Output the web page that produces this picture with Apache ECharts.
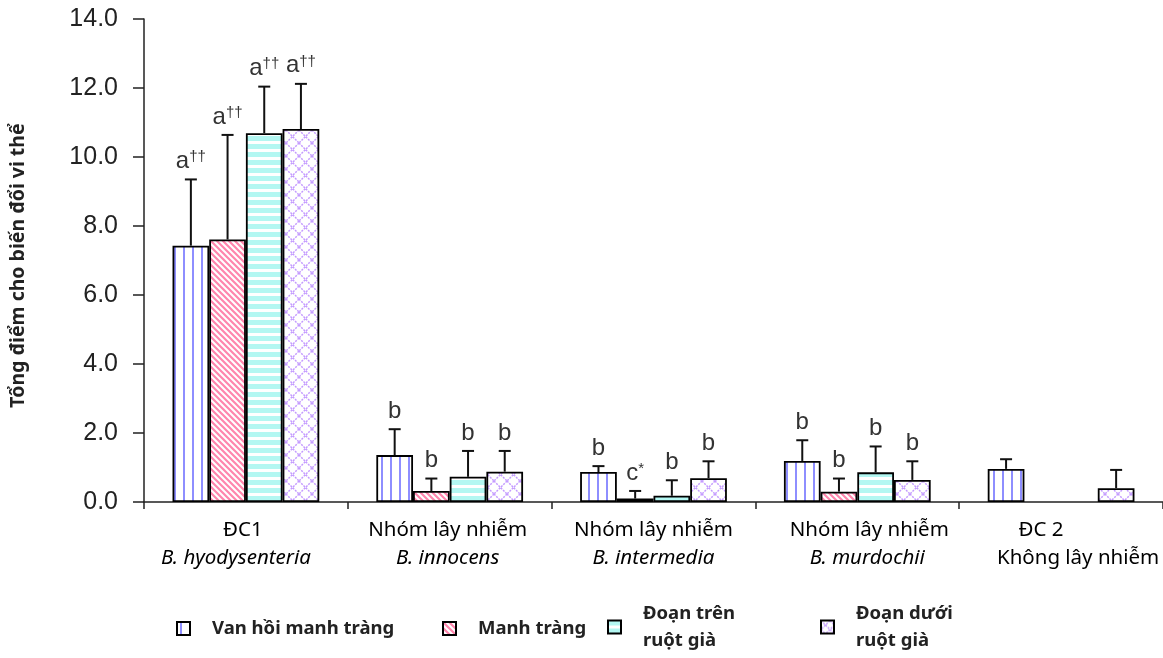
<!DOCTYPE html>
<html>
<head>
<meta charset="utf-8">
<script src="https://cdn.jsdelivr.net/npm/echarts@6/dist/echarts.min.js"></script>
<style>
  html, body { margin: 0; padding: 0; background: #fff; }
  #chartID { width: 1163px; height: 658px; }
</style>
</head>
<body>
<div id="chartID"></div>
<script>
// nhóm trên trục x (dòng 1 / dòng 2 in nghiêng)
var groupLine1 = ['ĐC1', 'Nhóm lây nhiễm', 'Nhóm lây nhiễm', 'Nhóm lây nhiễm', 'ĐC 2'];
var groupLine2 = ['B. hyodysenteria', 'B. innocens', 'B. intermedia', 'B. murdochii', 'Không lây nhiễm'];
var groupItalic = [true, true, true, true, false];

var seriesNames = ['Van hồi manh tràng', 'Manh tràng', 'Đoạn trên ruột già', 'Đoạn dưới ruột già'];
var legendLabels = ['Van hồi manh tràng', 'Manh tràng', 'Đoạn trên\nruột già', 'Đoạn dưới\nruột già'];

// giá trị trung bình
var vanHoi    = [7.43, 1.36, 0.87, 1.19, 0.96];
var manhTrang = [7.61, 0.32, 0.10, 0.30, '-'];
var doanTren  = [10.69, 0.73, 0.18, 0.86, '-'];
var doanDuoi  = [10.81, 0.88, 0.69, 0.64, 0.40];

// độ lệch chuẩn
var vanHoiSd    = [1.92, 0.75, 0.17, 0.60, 0.28];
var manhTrangSd = [3.03, 0.36, 0.22, 0.38, '-'];
var doanTrenSd  = [1.35, 0.75, 0.45, 0.75, '-'];
var doanDuoiSd  = [1.31, 0.60, 0.49, 0.54, 0.53];

// ký hiệu thống kê
var vanHoiSig    = ['a††', 'b', 'b', 'b', ''];
var manhTrangSig = ['a††', 'b', 'c*', 'b', ''];
var doanTrenSig  = ['a††', 'b', 'b', 'b', ''];
var doanDuoiSig  = ['a††', 'b', 'b', 'b', ''];

var yTicks = [0, 2, 4, 6, 8, 10, 12, 14];

var means = [vanHoi, manhTrang, doanTren, doanDuoi];
var sds = [vanHoiSd, manhTrangSd, doanTrenSd, doanDuoiSd];
var sigs = [vanHoiSig, manhTrangSig, doanTrenSig, doanDuoiSig];

// lệch ngang của nhãn trục x so với tâm nhóm (px)
var shift1 = [-3, -2, 0, 12, -20];
var shift2 = [-10, -2, 0, 10, 17];

function makePattern(kind, size) {
    var c = document.createElement('canvas');
    var ctx;
    if (kind === 'vertical') {
        var w = size || 9;
        c.width = w; c.height = w;
        ctx = c.getContext('2d');
        ctx.fillStyle = '#fff'; ctx.fillRect(0, 0, w, w);
        ctx.fillStyle = '#8e8eff'; ctx.fillRect(Math.floor(w / 2) - 1, 0, 2, w);
    } else if (kind === 'diagonal') {
        c.width = 6; c.height = 6;
        ctx = c.getContext('2d');
        ctx.fillStyle = '#fff'; ctx.fillRect(0, 0, 6, 6);
        ctx.strokeStyle = '#ff86ad'; ctx.lineWidth = 2.2;
        ctx.beginPath();
        ctx.moveTo(-3, -3); ctx.lineTo(9, 9);
        ctx.moveTo(-3, 3); ctx.lineTo(3, 9);
        ctx.moveTo(3, -3); ctx.lineTo(9, 3);
        ctx.stroke();
    } else if (kind === 'horizontal') {
        c.width = 8; c.height = 8;
        ctx = c.getContext('2d');
        ctx.fillStyle = '#fff'; ctx.fillRect(0, 0, 8, 8);
        ctx.fillStyle = '#b3f7f2'; ctx.fillRect(0, 0, 8, 5);
    } else {
        var s = size || 13;
        c.width = s; c.height = s;
        ctx = c.getContext('2d');
        ctx.fillStyle = '#fff'; ctx.fillRect(0, 0, s, s);
        ctx.strokeStyle = '#c49bff'; ctx.lineWidth = 1.5;
        ctx.setLineDash([2, 1.2]);
        ctx.beginPath();
        ctx.moveTo(0, 0); ctx.lineTo(s, s);
        ctx.moveTo(s, 0); ctx.lineTo(0, s);
        ctx.stroke();
    }
    return { image: c, repeat: 'repeat' };
}

var patterns = [makePattern('vertical'), makePattern('diagonal'), makePattern('horizontal'), makePattern('cross')];
var legendPatterns = [makePattern('vertical', 9), makePattern('diagonal'), makePattern('horizontal'), makePattern('cross', 9)];

var chart = echarts.init(document.getElementById('chartID'));

var seriesList = [];
var fontArial = '"Liberation Sans", Arial, sans-serif';
var fontBody = '"Noto Sans", sans-serif';

echarts.util.each(seriesNames, function (name, k) {
    seriesList.push({
        type: 'bar',
        name: name,
        data: means[k],
        barGap: '0%',
        barCategoryGap: '28%',
        itemStyle: {
            color: patterns[k],
            borderColor: '#000',
            borderWidth: 1.8
        },
        emphasis: { disabled: true }
    });
});

// thanh sai số + ký hiệu, vẽ bằng custom series
echarts.util.each(seriesNames, function (name, k) {
    var data = [];
    for (var i = 0; i < means[k].length; i++) {
        if (means[k][i] === '-') continue;
        data.push([i, means[k][i], +(means[k][i] + sds[k][i]).toFixed(2), sigs[k][i]]);
    }
    seriesList.push({
        type: 'custom',
        name: name + ' SD',
        z: 5,
        silent: true,
        encode: { x: 0, y: 2 },
        data: data,
        renderItem: function (params, api) {
            var cat = api.value(0);
            var base = api.coord([cat, api.value(1)]);
            var top = api.coord([cat, api.value(2)]);
            var bw = api.size([1, 0])[0] * 0.72 / 4;
            var x = base[0] + (k - 1.5) * bw;
            var sig = data[params.dataIndex][3];
            var children = [
                { type: 'line', shape: { x1: x, y1: base[1], x2: x, y2: top[1] }, style: { stroke: '#111', lineWidth: 2 } },
                { type: 'line', shape: { x1: x - 6, y1: top[1], x2: x + 6, y2: top[1] }, style: { stroke: '#111', lineWidth: 2 } }
            ];
            if (sig) {
                var txt = '{m|' + sig.charAt(0) + '}' + (sig.length > 1 ? '{s|' + sig.slice(1) + '}' : '');
                children.push({
                    type: 'text',
                    x: x,
                    y: top[1] - 6,
                    style: {
                        text: txt,
                        align: 'center',
                        verticalAlign: 'bottom',
                        fill: '#333',
                        rich: {
                            m: { fontSize: 24, fontFamily: fontArial, fill: '#333', verticalAlign: 'bottom' },
                            s: { fontSize: 15, fontFamily: fontArial, fill: '#333', verticalAlign: 'top' }
                        }
                    }
                });
            }
            return { type: 'group', children: children };
        }
    });
});

var legendPos = [
    { left: 176, top: 615 },
    { left: 442, top: 615 },
    { left: 607, top: 600 },
    { left: 820, top: 600 }
];
var legends = [];
echarts.util.each(seriesNames, function (name, k) {
    legends.push({
        data: [{ name: name, itemStyle: { color: legendPatterns[k] } }],
        left: legendPos[k].left,
        top: legendPos[k].top,
        padding: 0,
        icon: 'rect',
        itemWidth: 13,
        itemHeight: 13,
        selectedMode: false,
        itemStyle: { borderColor: '#000', borderWidth: 2 },
        formatter: function () { return legendLabels[k]; },
        textStyle: {
            fontFamily: fontBody,
            fontWeight: 'bold',
            fontSize: 18.5,
            lineHeight: 27,
            color: '#222',
            padding: [0, 0, 0, 17]
        }
    });
});

// rich style cho nhãn trục x, mỗi nhóm một kiểu để chỉnh lệch
var xRich = {};
echarts.util.each(groupLine1, function (v, i) {
    var p1 = shift1[i] >= 0 ? [0, 0, 0, 2 * shift1[i]] : [0, -2 * shift1[i], 0, 0];
    var p2 = shift2[i] >= 0 ? [0, 0, 0, 2 * shift2[i]] : [0, -2 * shift2[i], 0, 0];
    xRich['a' + i] = { fontFamily: fontBody, fontSize: 20.5, color: '#000', lineHeight: 28, padding: p1 };
    xRich['b' + i] = { fontFamily: fontBody, fontSize: 20.5, color: '#000', lineHeight: 28, padding: p2,
        fontStyle: groupItalic[i] ? 'italic' : 'normal' };
});

var option = {
    animation: false,
    backgroundColor: '#fff',
    grid: { left: 139, right: 0, top: 19, bottom: 156, containLabel: false },
    legend: legends,
    xAxis: {
        type: 'category',
        data: groupLine1,
        axisLine: { lineStyle: { color: '#222', width: 1.5 } },
        axisTick: { show: true, length: 7, lineStyle: { color: '#222', width: 1.5 } },
        axisLabel: {
            margin: 14,
            interval: 0,
            formatter: function (v, i) {
                return '{a' + i + '|' + groupLine1[i] + '}\n{b' + i + '|' + groupLine2[i] + '}';
            },
            rich: xRich
        }
    },
    yAxis: {
        type: 'value',
        min: yTicks[0],
        max: yTicks[yTicks.length - 1],
        interval: 2,
        name: 'Tổng điểm cho biến đổi vi thể',
        nameLocation: 'middle',
        nameGap: 116,
        nameTextStyle: { fontFamily: fontBody, fontWeight: 'bold', fontSize: 19.5, color: '#222', padding: [0, 10, 0, 0] },
        splitLine: { show: false },
        axisLine: { show: true, lineStyle: { color: '#222', width: 1.5 } },
        axisTick: { show: true, length: 11, lineStyle: { color: '#222', width: 1.5 } },
        axisLabel: {
            margin: 26,
            fontFamily: fontArial,
            fontSize: 25,
            color: '#222',
            formatter: function (v) { return v.toFixed(1); }
        }
    },
    series: seriesList
};

chart.setOption(option);
</script>
</body>
</html>
